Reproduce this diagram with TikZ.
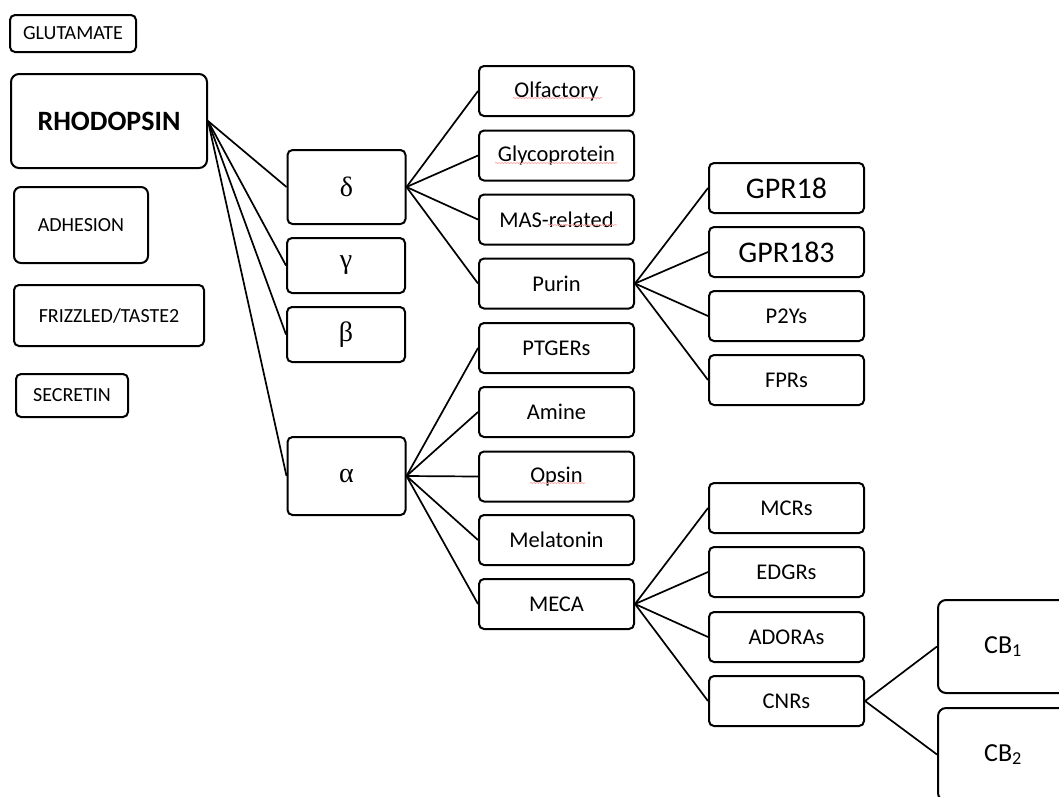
\documentclass[tikz,border=0pt]{standalone}
\usepackage{fontspec}
\setmainfont{Carlito}
\newfontfamily\grk{Liberation Serif}
\usetikzlibrary{decorations.pathmorphing}
\newcommand\fsz[1]{\fontsize{#1}{#1}\selectfont}
\begin{document}
\begin{tikzpicture}[x=1pt,y=-1pt,
  box/.style={draw, line width=2pt, rounded corners=5pt, inner sep=0pt, align=center},
  leftbox/.style={box, font=\fsz{20}},
  greek/.style={box, minimum width=118pt, font=\grk\fsz{28}},
  colbox/.style={box, minimum width=155pt, minimum height=50pt, font=\fsz{22.5}},
  bigbox/.style={colbox, font=\fsz{30}},
  cbbox/.style={box, rounded corners=8pt, minimum width=130pt, minimum height=93pt, font=\fsz{26}},
  link/.style={line width=1.7pt},
  spell/.style={draw=red!35, line width=0.7pt, decorate, decoration={snake, amplitude=0.6pt, segment length=3pt}}]
\useasboundingbox (0,0) rectangle (1059,796);
\clip (0,0) rectangle (1059,796);
\fill[white] (0,0) rectangle (1059,796);

% left column
\node[leftbox, minimum width=126pt, minimum height=37pt] (glu) at (73,33.5) {GLUTAMATE};
\node[box, rounded corners=8pt, minimum width=196pt, minimum height=94pt, font=\bfseries\fsz{28}] (rho) at (109,121) {RHODOPSIN};
\node[leftbox, rounded corners=7pt, minimum width=134pt, minimum height=76pt] (adh) at (81,225) {ADHESION};
\node[leftbox, minimum width=190pt, minimum height=61pt] (fri) at (109,315.5) {FRIZZLED/TASTE2};
\node[leftbox, minimum width=112pt, minimum height=43pt] (sec) at (72,395.5) {SECRETIN};

% greek column
\node[greek, minimum height=74pt] (delta) at (346.5,187) {δ};
\node[greek, minimum height=55pt] (gamma) at (346,265.5) {γ};
\node[greek, minimum height=55pt] (beta) at (346,334.5) {β};
\node[greek, minimum height=78pt] (alpha) at (346.5,476) {α};

% second column
\node[colbox] (olf) at (556.5,91) {Olfactory};
\node[colbox] (gly) at (556.5,155.5) {Glycoprotein};
\node[colbox] (mas) at (556.5,219.5) {MAS-related};
\node[colbox] (pur) at (556.5,283.5) {Purin};
\node[colbox] (ptg) at (556.5,348) {PTGERs};
\node[colbox] (ami) at (556.5,412) {Amine};
\node[colbox] (ops) at (556.5,476.5) {Opsin};
\node[colbox] (mel) at (556.5,540) {Melatonin};
\node[colbox] (mec) at (556.5,604) {MECA};

% third column
\node[bigbox] (g18) at (786.5,188) {GPR18};
\node[bigbox] (g183) at (786.5,252) {GPR183};
\node[colbox] (p2y) at (786.5,316) {P2Ys};
\node[colbox] (fpr) at (786.5,380) {FPRs};
\node[colbox] (mcr) at (786.5,508) {MCRs};
\node[colbox] (edg) at (786.5,572) {EDGRs};
\node[colbox] (ado) at (786.5,637) {ADORAs};
\node[colbox] (cnr) at (786.5,701) {CNRs};

% fourth column
\node[cbbox] (cb1) at (1003,646.5) {CB\textsubscript{1}};
\node[cbbox] (cb2) at (1003,754.5) {CB\textsubscript{2}};

% connectors
\foreach \t in {delta,gamma,beta,alpha} \draw[link] (rho.east) -- (\t.west);
\foreach \t in {olf,gly,mas,pur} \draw[link] (delta.east) -- (\t.west);
\foreach \t in {ptg,ami,ops,mel,mec} \draw[link] (alpha.east) -- (\t.west);
\foreach \t in {g18,g183,p2y,fpr} \draw[link] (pur.east) -- (\t.west);
\foreach \t in {mcr,edg,ado,cnr} \draw[link] (mec.east) -- (\t.west);
\foreach \t in {cb1,cb2} \draw[link] (cnr.east) -- (\t.west);

% spell-check underlines
\path[spell] (513,98) -- (602,98);
\path[spell] (495,163) -- (617,163);
\path[spell] (548,225) -- (617,225);
\path[spell] (530,483) -- (585,483);
\end{tikzpicture}
\end{document}
